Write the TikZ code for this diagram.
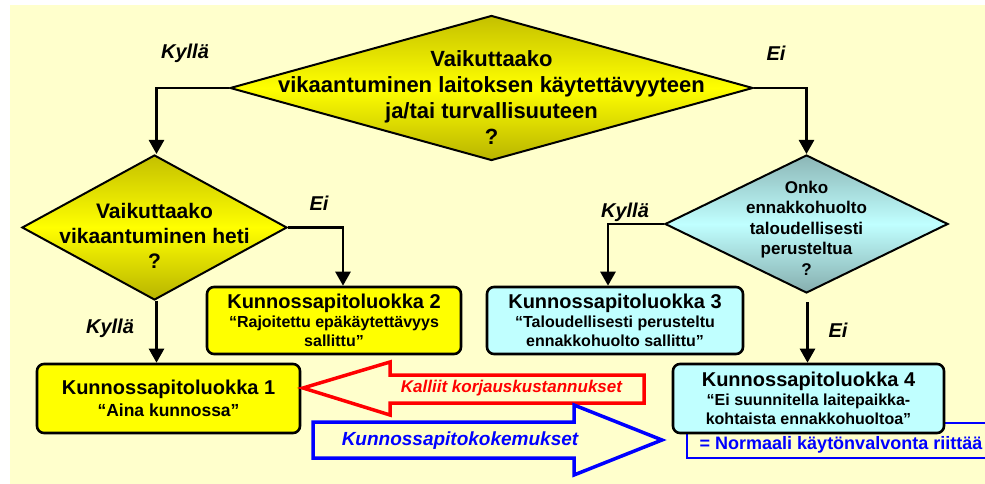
\documentclass[tikz,border=0pt]{standalone}
\usepackage{fontspec}
\setmainfont{Liberation Sans}
\usetikzlibrary{shapes.geometric,arrows.meta}
\definecolor{bgyellow}{HTML}{FFFFCC}
\definecolor{kpyellow}{HTML}{FFFF00}
\definecolor{kpolive}{HTML}{C4C000}
\definecolor{kpolivelow}{HTML}{B8B400}
\definecolor{kpcyan}{HTML}{C0FFFF}
\definecolor{kpteal}{HTML}{8CB6B6}
\definecolor{kptealow}{HTML}{86AEAE}
\newcommand{\kptitle}{\fontsize{20}{23}\selectfont}
\newcommand{\kpnote}{\fontsize{16}{19}\selectfont}
\tikzset{
	every question/.style={
		diamond,
		draw,
		line width=2pt,
		inner sep=0pt },
	question yellow/.style={
		top color=kpolive,
		bottom color=kpolivelow,
		middle color=kpyellow },
	question cyan/.style={
		top color=kpteal,
		bottom color=kptealow,
		middle color=kpcyan },
	question text/.style={
		align=center,
		font=\bfseries },
	every class/.style={
		rectangle,
		draw,
		rounded corners=7pt,
		line width=2.6pt,
		inner sep=0pt,
		align=center,
		font=\kpnote\bfseries },
	class yellow/.style={fill=kpyellow},
	class cyan/.style={fill=kpcyan},
	answer/.style={
		font=\fontsize{20}{24}\selectfont\bfseries\itshape },
}

\begin{document}
\begin{tikzpicture}[x=1pt, y=-1pt, >={Triangle[length=14pt,width=15pt]}]

		\useasboundingbox (0,0) rectangle (985,484);
		\fill[bgyellow] (10,5) rectangle (985,484);

		% questions
		\node [every question/.try, question yellow/.try, minimum width=523pt, minimum height=145pt] (q1) at (491.5,88) {};
		\node [every question/.try, question yellow/.try, minimum width=265pt, minimum height=145pt] (q2) at (154.5,227.5) {};
		\node [every question/.try, question cyan/.try, minimum width=283pt, minimum height=138pt] (q3) at (806.5,224) {};

		\node [question text, font=\fontsize{22}{26}\selectfont\bfseries] (q1-text) at ([yshift=-10pt]q1.center)
		{Vaikuttaako\\vikaantuminen laitoksen käytettävyyteen\\ja/tai turvallisuuteen\\?};
		\node [question text, font=\fontsize{21}{25}\selectfont\bfseries] (q2-text) at ([yshift=-8pt]q2.center)
		{Vaikuttaako\\vikaantuminen heti\\?};
		\node [question text, font=\fontsize{17}{20.5}\selectfont\bfseries] (q3-text) at ([yshift=-4pt]q3.center)
		{Onko\\ennakkohuolto\\taloudellisesti\\perusteltua\\?};

		% the blue note behind class 4
		\draw [blue, line width=1.5pt] (985,423) -- (687,423) -- (687,458) -- (985,458);

		% classes
		\node [every class/.try, class yellow/.try, minimum width=263pt, minimum height=69pt,
			font=\fontsize{17.5}{22}\selectfont\bfseries] (class-1) at (168.5,398.5)
		{{\kptitle Kunnossapitoluokka 1}\\“Aina kunnossa”};
		\node [every class/.try, class yellow/.try, minimum width=254pt, minimum height=67pt] (class-2) at (334,320.5)
		{{\kptitle Kunnossapitoluokka 2}\\“Rajoitettu epäkäytettävyys\\sallittu”};
		\node [every class/.try, class cyan/.try, minimum width=256pt, minimum height=67pt] (class-3) at (615,320.5)
		{{\kptitle Kunnossapitoluokka 3}\\“Taloudellisesti perusteltu\\ennakkohuolto sallittu”};
		\node [every class/.try, class cyan/.try, minimum width=271pt, minimum height=69pt] (class-4) at (808.5,398.5)
		{{\kptitle Kunnossapitoluokka 4}\\“Ei suunnitella laitepaikka-\\kohtaista ennakkohuoltoa”};

		\node [font=\fontsize{18}{20}\selectfont\bfseries, text=blue] (note) at (841,445) {= Normaali käytönvalvonta riittää};

		% connectors
		\draw [->, line width=2.6pt] (q1.west) -| ([xshift=2pt]q2.north);
		\draw [->, line width=2.6pt] (q1.east) -| (q3.north);
		\draw [->, line width=2.6pt] (q2.east) -| ([xshift=9pt]class-2.north);
		\draw [->, line width=2.6pt] (q3.west) -| ([xshift=-7pt]class-3.north);
		\draw [->, line width=2.6pt] ([xshift=2pt]q2.south) -- ([xshift=2pt]q2.south |- class-1.north);
		\draw [->, line width=2.6pt, shorten <=8pt] ([xshift=1pt]q3.south) -- ([xshift=1pt]q3.south |- class-4.north);

		\foreach \t/\x/\y [count=\i] in {Kyllä/185/53, Ei/776/53, Ei/319/203, Kyllä/110/328, Kyllä/625/212, Ei/838/330}
		\node [answer] (answer-\i) at (\x,\y) {\t};

		% block arrows
		\draw [red, line width=3.5pt, line join=miter]
		(644,375) -- (390,375) -- (390,362) -- (303,388) -- (390,415) -- (390,403) -- (644,403) -- cycle;
		\node [font=\fontsize{17}{20}\selectfont\bfseries\itshape, text=red] (costs) at (511.5,388) {Kalliit korjauskustannukset};

		\draw [blue, line width=3.5pt, line join=miter]
		(313,422) -- (574,422) -- (574,405) -- (662,440) -- (574,475) -- (574,458) -- (313,458) -- cycle;
		\node [font=\fontsize{19}{22}\selectfont\bfseries\itshape, text=blue] (experience) at (460,441) {Kunnossapitokokemukset};
	\end{tikzpicture}
\end{document}
